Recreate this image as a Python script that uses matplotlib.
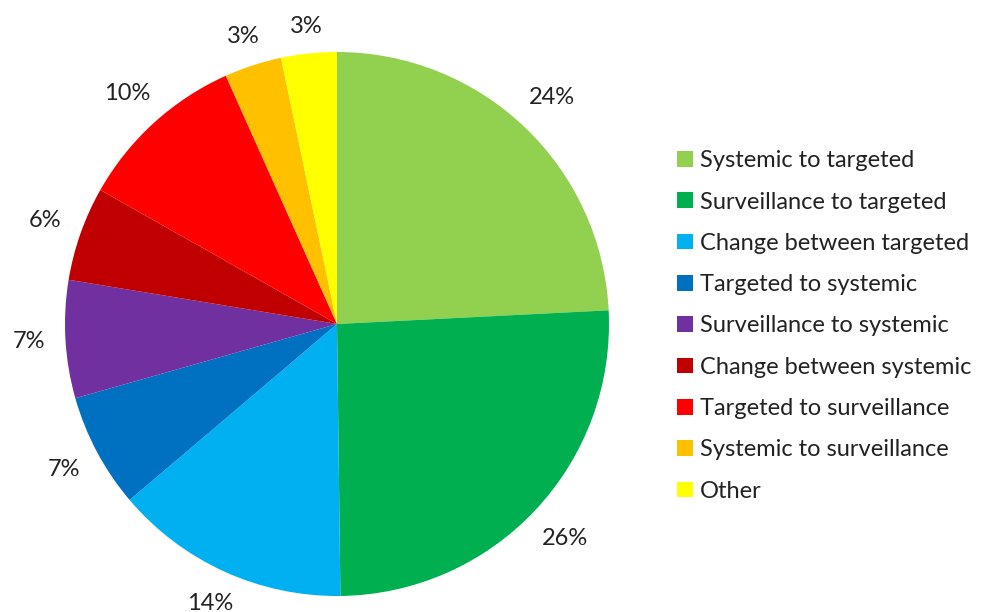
import numpy as np
import matplotlib.pyplot as plt
from matplotlib.patches import Patch

plt.rcParams['font.family'] = ['Lato', 'DejaVu Sans']

categories = ['Systemic to targeted', 'Surveillance to targeted', 'Change between targeted',
              'Targeted to systemic', 'Surveillance to systemic', 'Change between systemic',
              'Targeted to surveillance', 'Systemic to surveillance', 'Other']
# shares (labels show them rounded)
shares = [24.2, 25.6, 14.0, 6.8, 7.0, 5.6, 10.1, 3.4, 3.3]
colors = ['#92D050', '#00B050', '#00B0F0', '#0070C0', '#7030A0', '#C00000',
          '#FF0000', '#FFC000', '#FFFF00']

W, H = 986, 612
fig = plt.figure(figsize=(W / 100, H / 100), dpi=100)

# pie centre and radius in pixels
cx, cy, r = 337, 612 - 324, 272
ax = fig.add_axes([(cx - r) / W, (cy - r) / H, 2 * r / W, 2 * r / H])
wedges, _, autotexts = ax.pie(shares, colors=colors, startangle=90, counterclock=False,
                              autopct='%.0f%%', pctdistance=1.15, radius=1,
                              textprops={'fontsize': 17, 'color': '#222222'},
                              wedgeprops={'linewidth': 0})
ax.set_xlim(-1, 1)
ax.set_ylim(-1, 1)
ax.set_aspect('equal')
ax.axis('off')

# "outside end" labels: keep the text box a fixed gap away from the rim
renderer = fig.canvas.get_renderer()
gap = 0.075
for w, t in zip(wedges, autotexts):
    ang = np.deg2rad((w.theta1 + w.theta2) / 2)
    ux, uy = np.cos(ang), np.sin(ang)
    bb = t.get_window_extent(renderer)
    hw, hh = bb.width / 2 / r, bb.height / 4 / r   # bbox height has line padding
    d = 1 + gap + hw * abs(ux) + hh * abs(uy)
    t.set_position((d * ux, d * uy))
    t.set_clip_on(False)

handles = [Patch(facecolor=c, edgecolor='none') for c in colors]
fig.legend(handles, categories, loc='upper left', bbox_to_anchor=(656 / W, 1 - 129 / H),
           frameon=False, fontsize=17, labelspacing=0.86, handlelength=0.68,
           handleheight=0.64, handletextpad=0.28, labelcolor='#222222')

fig.savefig('out.png', dpi=100)
